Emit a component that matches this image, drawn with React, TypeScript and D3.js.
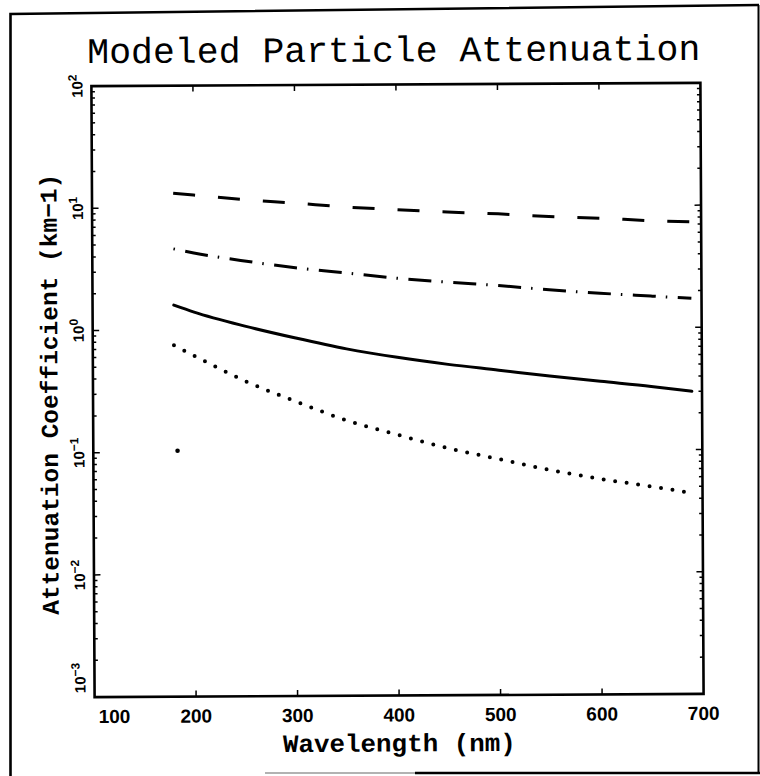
import React from "react";
import * as d3 from "d3";

// wavelength grid (nm) shared by the four model curves
const wavelengths = [180, 200, 250, 300, 350, 400, 450, 500, 550, 600, 650, 690];

// attenuation coefficient (km-1)
const dashedSeries = [13.2, 12.7, 11.6, 10.8, 10.0, 9.45, 9.0, 8.65, 8.2, 7.9, 7.5, 7.3];
const dashDotSeries = [4.62, 4.27, 3.65, 3.2, 2.88, 2.6, 2.4, 2.24, 2.06, 1.92, 1.81, 1.73];
const solidSeries = [1.6, 1.4, 1.07, 0.85, 0.69, 0.585, 0.51, 0.455, 0.405, 0.365, 0.33, 0.3];
const dottedSeries = [0.75, 0.615, 0.38, 0.257, 0.179, 0.136, 0.105, 0.085, 0.069, 0.058, 0.05, 0.044];

// lone mark near the left edge
const strayWavelength = [183];
const strayValue = [0.103];

const xTicks = [100, 200, 300, 400, 500, 600, 700];
const yExponents = [2, 1, 0, -1, -2, -3];

const title = "Modeled Particle Attenuation";
const xTitle = "Wavelength (nm)";
const yTitle = "Attenuation Coefficient (km\u22121)";

export default function App() {
  const width = 760;
  const height = 776;
  const margin = { top: 84.5, right: 58, bottom: 80.5, left: 93 };
  const left = margin.left;
  const right = width - margin.right;
  const top = margin.top;
  const bottom = height - margin.bottom;

  const x = d3.scaleLinear().domain([100, 700]).range([left, right]);
  const y = d3.scaleLog().domain([1e-3, 1e2]).range([bottom, top]);

  const line = d3
    .line<number>()
    .x((d, i) => x(wavelengths[i]))
    .y((d) => y(d))
    .curve(d3.curveMonotoneX);

  const yTickValues = y.ticks();
  const isMajor = (v: number) => Math.abs(Math.log10(v) - Math.round(Math.log10(v))) < 1e-6;

  const fontMono = "'Liberation Mono', 'DejaVu Sans Mono', monospace";
  const fontSans = "'Liberation Sans', Arial, sans-serif";

  const series = [
    { values: dashedSeries, dash: "22 23", width: 3, cap: "butt" },
    { values: dashDotSeries, dash: "1.5 10.5 23 10", width: 3, cap: "butt" },
    { values: solidSeries, dash: "none", width: 3, cap: "round" },
    { values: dottedSeries, dash: "0 11.6", width: 4, cap: "round" },
  ];

  return (
    <svg
      width={width}
      height={height}
      style={{ position: "absolute", left: 0, top: 0, background: "#fff" }}
    >
      {/* outer frame of the scanned page */}
      <g fill="none" stroke="#000">
        <path d="M10.5,776 L10.5,14 L759,5" strokeWidth={2.6} />
        <path d="M758.5,5 L758.5,773" strokeWidth={2} />
        <path d="M265,773 L415,773" strokeWidth={1.5} stroke="#999" />
        <path d="M415,773 L760,773" strokeWidth={2.5} />
      </g>

      <g transform={`rotate(-0.3 ${(left + right) / 2} ${(top + bottom) / 2})`}>
        <text
          x={89}
          y={61.5}
          fontFamily={fontMono}
          fontSize={36}
          textLength={613}
          lengthAdjust="spacingAndGlyphs"
          fill="#000"
        >
          {title}
        </text>

        {/* plot frame */}
        <rect
          x={left}
          y={top}
          width={right - left}
          height={bottom - top}
          fill="none"
          stroke="#000"
          strokeWidth={2.6}
        />

        {/* x ticks, bottom and top, pointing inward */}
        <g stroke="#000" strokeWidth={1.5}>
          {xTicks.slice(1, -1).map((t) => (
            <g key={t}>
              <line x1={x(t)} x2={x(t)} y1={bottom} y2={bottom - 6} />
              <line x1={x(t)} x2={x(t)} y1={top} y2={top + 6} />
            </g>
          ))}
        </g>

        {/* y ticks, left and right, log minors */}
        <g stroke="#000" strokeWidth={1.5}>
          {yTickValues.map((v, i) => {
            const len = isMajor(v) ? 6.5 : 3.5;
            return (
              <g key={i}>
                <line x1={left} x2={left + len} y1={y(v)} y2={y(v)} />
                <line x1={right} x2={right - len} y1={y(v)} y2={y(v)} />
              </g>
            );
          })}
        </g>

        {/* x tick labels */}
        <g fontFamily={fontSans} fontWeight="bold" fontSize={19} fill="#000">
          {xTicks.map((t, i) => (
            <text
              key={t}
              x={i === 0 ? x(t) + 4 : x(t)}
              y={bottom + 26}
              textAnchor={i === 0 ? "start" : "middle"}
            >
              {t}
            </text>
          ))}
        </g>

        {/* y tick labels, rotated */}
        <g fontFamily={fontSans} fontWeight="bold" fontSize={15} fill="#000">
          {yExponents.map((e, i) => {
            const last = i === yExponents.length - 1;
            const ty = last ? bottom - 4 : y(Math.pow(10, e));
            return (
              <text
                key={e}
                transform={`translate(84,${ty}) rotate(-90)`}
                textAnchor={last ? "start" : "middle"}
              >
                <tspan>10</tspan>
                <tspan dy={-6} fontSize={12}>
                  {e < 0 ? `\u2212${-e}` : `${e}`}
                </tspan>
              </text>
            );
          })}
        </g>

        {/* axis titles */}
        <text
          x={(left + right) / 2}
          y={bottom + 56}
          textAnchor="middle"
          fontFamily={fontMono}
          fontWeight="bold"
          fontSize={25}
          textLength={233}
          lengthAdjust="spacingAndGlyphs"
          fill="#000"
        >
          {xTitle}
        </text>
        <text
          transform={`translate(57.5,${(top + bottom) / 2 + 2.5}) rotate(-90)`}
          textAnchor="middle"
          fontFamily={fontMono}
          fontWeight="bold"
          fontSize={24}
          textLength={441}
          lengthAdjust="spacingAndGlyphs"
          fill="#000"
        >
          {yTitle}
        </text>

        {/* model curves */}
        <g fill="none" stroke="#000">
          {series.map((s, i) => (
            <path
              key={i}
              d={line(s.values) || ""}
              strokeWidth={s.width}
              strokeDasharray={s.dash}
              strokeLinecap={s.cap as any}
              strokeLinejoin="round"
            />
          ))}
        </g>

        {strayWavelength.map((w, i) => (
          <circle key={i} cx={x(w)} cy={y(strayValue[i])} r={2.3} fill="#000" />
        ))}
      </g>
    </svg>
  );
}
